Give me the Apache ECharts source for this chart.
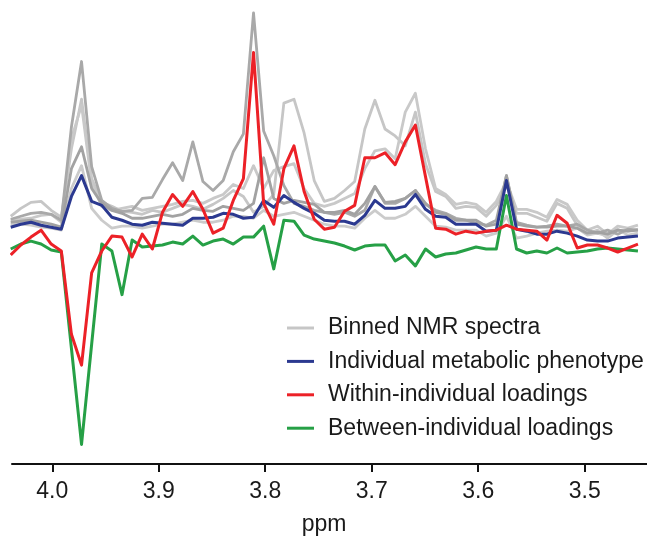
<!DOCTYPE html>
<html>
<head>
<meta charset="utf-8">
<script src="https://cdn.jsdelivr.net/npm/echarts@6/dist/echarts.min.js"></script>
<style>
  html, body { margin: 0; padding: 0; background: #fff; }
  #chart { width: 647px; height: 541px; }
</style>
</head>
<body>
<div id="chart"></div>
<script>
// Chemical shift of each bin (ppm)
const ppm = [4.039, 4.0295, 4.020, 4.0105, 4.001, 3.9915, 3.982, 3.9725, 3.963, 3.9535,
  3.944, 3.9345, 3.925, 3.9155, 3.906, 3.8965, 3.887, 3.8775, 3.868, 3.8585,
  3.849, 3.8395, 3.830, 3.8205, 3.811, 3.8015, 3.792, 3.7825, 3.773, 3.7635,
  3.754, 3.7445, 3.735, 3.7255, 3.716, 3.7065, 3.697, 3.6875, 3.678, 3.6685,
  3.659, 3.6495, 3.640, 3.6305, 3.621, 3.6115, 3.602, 3.5925, 3.583, 3.5735,
  3.564, 3.5545, 3.545, 3.5355, 3.526, 3.5165, 3.507, 3.4975, 3.488, 3.4785,
  3.469, 3.4595, 3.450];

// Binned NMR spectra (scaled intensity)
const spectrumA = [0.09, 0.12, 0.15, 0.16, 0.14, 0.08, 1.02, 1.68, 0.62, 0.28,
  0.20, 0.17, 0.18, 0.30, 0.31, 0.49, 0.66, 0.48, 0.87, 0.47,
  0.38, 0.48, 0.77, 0.95, 2.17, 0.98, 0.73, 0.43, 0.25, 0.22,
  0.18, 0.16, 0.14, 0.16, 0.12, 0.18, 0.42, 0.25, 0.25, 0.30,
  0.38, 0.24, 0.18, 0.15, 0.10, 0.08, 0.05, 0.03, 0.08, 0.53,
  0.06, 0.03, 0.01, 0.02, 0.04, 0.02, 0.04, -0.02, -0.05, -0.02,
  -0.06, -0.01, -0.02];
const spectrumB = [0.12, 0.20, 0.26, 0.27, 0.18, 0.11, 0.80, 1.30, 0.50, 0.26,
  0.22, 0.17, 0.16, 0.14, 0.18, 0.16, 0.20, 0.24, 0.22, 0.19,
  0.24, 0.30, 0.38, 0.32, 0.16, 0.22, 0.34, 1.26, 1.30, 0.96,
  0.48, 0.27, 0.30, 0.38, 0.47, 1.00, 1.29, 1.00, 0.93, 0.83,
  1.17, 0.65, 0.37, 0.32, 0.20, 0.22, 0.21, 0.12, 0.23, 0.44,
  0.15, 0.15, 0.11, 0.07, 0.25, 0.20, 0.03, -0.06, -0.02, -0.10,
  -0.02, -0.03, -0.01];
const spectrumC = [0.08, 0.09, 0.10, 0.13, 0.14, 0.06, 0.90, 1.24, 0.45, 0.22,
  0.18, 0.20, 0.22, 0.18, 0.20, 0.22, 0.24, 0.27, 0.28, 0.25,
  0.30, 0.34, 0.44, 0.40, 0.63, 0.40, 0.58, 0.62, 0.65, 0.40,
  0.25, 0.22, 0.25, 0.30, 0.35, 0.60, 0.78, 0.80, 0.70, 1.17,
  1.36, 0.80, 0.40, 0.34, 0.24, 0.26, 0.24, 0.16, 0.27, 0.47,
  0.19, 0.19, 0.16, 0.11, 0.29, 0.24, 0.08, -0.02, 0.02, -0.06,
  0.02, 0.00, 0.03];
const spectrumD = [0.06, 0.07, 0.08, 0.06, 0.04, 0.01, 0.60, 0.82, 0.40, 0.25,
  0.18, 0.15, 0.10, 0.10, 0.12, 0.14, 0.12, 0.14, 0.20, 0.18,
  0.17, 0.22, 0.20, 0.18, 0.25, 0.71, 0.30, 0.25, 0.28, 0.26,
  0.24, 0.16, 0.16, 0.18, 0.14, 0.25, 0.42, 0.26, 0.27, 0.30,
  0.38, 0.25, 0.16, 0.14, 0.08, 0.08, 0.08, 0.02, 0.04, 0.53,
  0.04, 0.02, 0.01, 0.01, 0.02, 0.02, 0.00, -0.05, -0.04, -0.06,
  -0.02, -0.03, -0.02];
const spectrumE = [0.04, 0.04, 0.03, 0.01, 0.00, -0.02, 0.40, 0.63, 0.20, 0.08,
  0.00, 0.02, 0.02, 0.00, 0.02, 0.04, 0.04, 0.06, 0.08, 0.06,
  0.06, 0.08, 0.12, 0.12, 0.10, 0.18, 0.12, 0.14, 0.16, 0.12,
  0.08, 0.04, 0.02, 0.02, 0.00, 0.10, 0.18, 0.10, 0.10, 0.14,
  0.22, 0.12, 0.02, 0.01, -0.02, -0.02, -0.02, -0.08, -0.05, 0.12,
  -0.10, -0.08, -0.05, -0.03, -0.02, -0.03, 0.00, -0.07, -0.05, -0.08,
  -0.01, -0.07, -0.05];

// Individual metabolic phenotype
const phenotype = [0.01, 0.04, 0.06, 0.03, 0.01, -0.01, 0.32, 0.53, 0.27, 0.23,
  0.11, 0.08, 0.04, 0.03, 0.06, 0.05, 0.04, 0.03, 0.10, 0.10,
  0.11, 0.15, 0.14, 0.10, 0.11, 0.28, 0.21, 0.33, 0.26, 0.20,
  0.15, 0.08, 0.07, 0.07, 0.04, 0.13, 0.28, 0.20, 0.20, 0.22,
  0.34, 0.19, 0.12, 0.11, 0.04, 0.04, 0.04, -0.03, -0.02, 0.48,
  -0.01, -0.03, -0.06, -0.06, -0.03, -0.05, -0.08, -0.12, -0.13, -0.13,
  -0.10, -0.09, -0.08];

// Within-individual loadings
const withinLoadings = [-0.27, -0.17, -0.09, -0.02, -0.16, -0.23, -1.07, -1.38, -0.45, -0.23,
  -0.08, -0.09, -0.29, -0.06, -0.21, 0.16, 0.34, 0.22, 0.37, 0.19,
  -0.05, 0.00, 0.28, 0.50, 1.77, 0.25, 0.04, 0.60, 0.83, 0.37,
  0.09, -0.01, 0.01, 0.17, 0.23, 0.71, 0.71, 0.76, 0.64, 0.87,
  1.04, 0.52, 0.00, -0.01, -0.06, -0.03, -0.05, -0.03, -0.02, 0.03,
  -0.01, -0.02, -0.03, -0.12, 0.13, 0.05, -0.20, -0.17, -0.17, -0.20,
  -0.24, -0.20, -0.16];

// Between-individual loadings
const betweenLoadings = [-0.21, -0.16, -0.13, -0.16, -0.22, -0.24, -1.21, -2.18, -1.17, -0.16,
  -0.23, -0.67, -0.12, -0.19, -0.18, -0.17, -0.14, -0.16, -0.08, -0.17,
  -0.13, -0.11, -0.16, -0.09, -0.09, 0.02, -0.41, 0.08, 0.07, -0.07,
  -0.11, -0.13, -0.15, -0.18, -0.22, -0.18, -0.17, -0.17, -0.33, -0.27,
  -0.38, -0.21, -0.29, -0.26, -0.25, -0.22, -0.19, -0.21, -0.21, 0.33,
  -0.21, -0.25, -0.23, -0.25, -0.20, -0.25, -0.24, -0.23, -0.21, -0.20,
  -0.21, -0.22, -0.23];

const tickValues = [4.0, 3.9, 3.8, 3.7, 3.6, 3.5];
const legendNames = ['Binned NMR spectra', 'Individual metabolic phenotype',
  'Within-individual loadings', 'Between-individual loadings'];

const FONT = '"Liberation Sans", Arial, Helvetica, sans-serif';
const pairs = ys => ppm.map((x, i) => [x, ys[i]]);

function lineSeries(name, ys, color, width, z) {
  return {
    name: name,
    type: 'line',
    data: pairs(ys),
    symbol: 'none',
    lineStyle: { color: color, width: width, join: 'round' },
    itemStyle: { color: color },
    z: z,
    silent: true
  };
}

const spectraStyles = [
  [spectrumB, '#c6c6c6'],
  [spectrumE, '#cbcbcb'],
  [spectrumC, '#c9c9c9'],
  [spectrumA, '#a9a9a9'],
  [spectrumD, '#a2a2a2']
];

const series = spectraStyles.map(([ys, c], i) => lineSeries(legendNames[0], ys, c, 2.8, 1 + i));
series.push(lineSeries(legendNames[3], betweenLoadings, '#26a046', 3, 10));
series.push(lineSeries(legendNames[1], phenotype, '#2b3990', 3, 11));
series.push(lineSeries(legendNames[2], withinLoadings, '#ec2127', 3, 12));

const chart = echarts.init(document.getElementById('chart'), null, { renderer: 'canvas' });
chart.setOption({
  animation: false,
  backgroundColor: '#ffffff',
  grid: { left: 12, right: 0, top: 0, bottom: 73, containLabel: false },
  xAxis: {
    type: 'value',
    inverse: true,
    min: 3.4415,
    max: 4.0378,
    name: 'ppm',
    nameLocation: 'middle',
    nameGap: 49,
    nameTextStyle: { fontFamily: FONT, fontSize: 23, color: '#1a1a1a', padding: [0, 11, 0, 0] },
    axisLine: { onZero: false, lineStyle: { color: '#111', width: 2 } },
    axisTick: { show: true, length: 8, lineStyle: { color: '#111', width: 2 }, customValues: tickValues },
    axisLabel: {
      customValues: tickValues,
      margin: 16,
      fontFamily: FONT,
      fontSize: 23,
      color: '#1a1a1a',
      formatter: v => Number(v).toFixed(1)
    },
    splitLine: { show: false }
  },
  yAxis: {
    type: 'value',
    min: -2.377,
    max: 2.30,
    show: false,
    splitLine: { show: false }
  },
  legend: {
    data: legendNames,
    orient: 'vertical',
    left: 282,
    top: 311,
    icon: 'rect',
    itemWidth: 27,
    itemHeight: 3,
    itemGap: 9.4,
    selectedMode: false,
    textStyle: { fontFamily: FONT, fontSize: 23, color: '#1a1a1a', lineHeight: 24, padding: [0, 0, 0, 9] }
  },
  series: series
});
</script>
</body>
</html>
